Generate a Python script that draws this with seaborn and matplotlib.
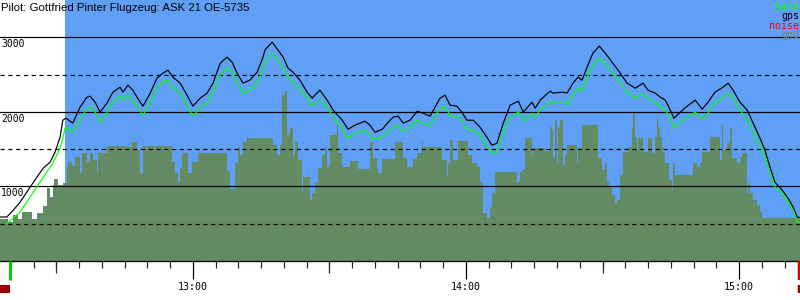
import numpy as np
import matplotlib
matplotlib.use("Agg")
import matplotlib.pyplot as plt
import seaborn as sns
from matplotlib.transforms import blended_transform_factory, ScaledTranslation
from matplotlib.patches import Rectangle

# ---------------- data (time = minutes after 12:00, altitude in m) ----------------
title = "Pilot: Gottfried Pinter Flugzeug: ASK 21 OE-5735"
legend_labels = ["baro", "gps", "noise", "gnd"]
legend_colors = ["#00ff00", "#000000", "#ff0000", "#6e8c6e"]

gps_t = [17.6, 19.1, 20.5, 22.0, 24.2, 25.7, 27.1, 28.6, 29.7, 30.8, 31.4, 32.1, 33.6, 35.2, 36.7, 37.4,
         38.5, 39.6, 41.1, 42.4, 44.0, 44.6, 45.7, 46.8, 47.7, 49.0, 50.6, 52.1, 53.4, 54.5, 55.6, 57.2,
         58.7, 60.0, 61.6, 63.1, 64.4, 66.0, 67.5, 68.6, 69.7, 71.0, 72.5, 74.1, 75.4, 75.8, 77.4, 78.7,
         79.8, 80.9, 82.0, 83.5, 85.1, 86.2, 86.8, 87.9, 89.5, 90.8, 92.8, 94.1, 95.6, 97.8, 98.9, 100.0,
         101.6, 102.9, 104.0, 105.1, 106.2, 107.7, 109.3, 110.6, 112.1, 113.2, 114.3, 115.4, 116.5, 118.0,
         119.1, 120.2, 121.6, 123.1, 124.6, 125.7, 126.8, 128.2, 129.7, 131.5, 132.6, 134.5, 135.2, 136.3,
         138.5, 139.1, 141.3, 142.2, 143.5, 144.6, 145.5, 146.6, 147.9, 149.3, 150.6, 152.1, 153.9, 155.4,
         157.2, 158.9, 160.0, 161.6, 162.7, 163.8, 164.9, 165.7, 167.1, 168.6, 170.4, 171.9, 173.2, 174.7,
         176.5, 177.6, 178.7, 180.2, 181.8, 183.1, 184.6, 185.7, 186.8, 187.9, 189.5, 190.8, 191.9, 192.8,
         193.4]
gps_alt = [590, 590, 680, 788, 989, 1123, 1244, 1325, 1459, 1660, 1888, 1915, 1849, 2063, 2197, 2210,
           2130, 1996, 2116, 2264, 2331, 2264, 2358, 2291, 2197, 2076, 2251, 2452, 2519, 2559, 2465, 2385,
           2224, 2076, 2184, 2251, 2385, 2653, 2734, 2667, 2519, 2385, 2425, 2532, 2734, 2828, 2935, 2828,
           2734, 2586, 2532, 2425, 2264, 2184, 2224, 2291, 2157, 2023, 1888, 1767, 1821, 1875, 1821, 1727,
           1767, 1861, 1929, 1942, 1849, 1888, 2009, 1982, 1942, 2063, 2184, 2224, 2090, 2076,
           1996, 1888, 1888, 1794, 1660, 1553, 1580, 1849, 2090, 2143, 1996, 2130, 2049, 2157,
           2278, 2251, 2264, 2251, 2385, 2465, 2425, 2599, 2787, 2881, 2787, 2667, 2519, 2385,
           2318, 2385, 2291, 2251, 2197, 2157, 2023, 1915, 1996, 2076, 2157, 2036, 2130, 2264,
           2331, 2385, 2291, 2130, 2023, 1849, 1647, 1486, 1258, 1056, 949, 841, 720, 586,
           586]

baro_t = [19.1, 20.5, 22.0, 24.9, 27.1, 29.2, 30.3, 31.2, 31.9, 32.3, 33.6, 35.2, 36.7, 37.8, 38.9, 39.6,
          41.1, 42.4, 44.0, 44.6, 45.7, 46.8, 47.7, 49.0, 50.6, 52.1, 53.4, 54.5, 55.6, 57.2, 58.7, 60.0,
          61.6, 63.1, 64.4, 66.0, 67.5, 68.6, 69.7, 71.0, 72.5, 74.1, 74.7, 75.8, 77.4, 78.7, 79.8, 80.9,
          82.0, 83.5, 85.1, 86.2, 87.3, 87.9, 89.5, 90.8, 92.8, 94.1, 95.6, 97.4, 98.5, 99.6, 101.1, 102.9,
          104.0, 105.1, 106.2, 107.7, 109.3, 110.6, 112.1, 113.2, 114.3, 115.4, 116.5, 118.0, 119.1, 120.2,
          121.6, 123.1, 124.6, 126.0, 126.8, 128.2, 129.7, 131.5, 132.1, 133.0, 134.5, 135.2, 136.3, 138.5,
          140.0, 141.8, 142.2, 143.5, 144.6, 145.5, 146.6, 147.9, 149.3, 150.6, 152.1, 153.9, 155.4, 157.2,
          158.9, 160.0, 161.6, 162.7, 163.8, 164.9, 165.7, 167.1, 168.6, 170.4, 171.9, 173.2, 174.7, 176.3,
          177.6, 178.7, 180.2, 181.8, 183.1, 184.6, 185.7, 186.8, 187.9, 189.5, 190.8, 191.9, 192.8, 193.4]
baro_alt = [506, 573, 654, 922, 1123, 1311, 1446, 1593, 1781, 1781, 1727, 1888, 2049, 2063, 1955, 1861,
            1982, 2130, 2210, 2157, 2224, 2157, 2076, 1955, 2130, 2331, 2398, 2425, 2331, 2251, 2076, 1942,
            2049, 2116, 2251, 2492, 2586, 2532, 2385, 2251, 2291, 2398, 2452, 2667, 2787, 2693, 2599, 2465,
            2398, 2291, 2184, 2076, 2130, 2157, 2063, 1929, 1781, 1647, 1700, 1754, 1727, 1633, 1647, 1727,
            1794, 1821, 1727, 1794, 1888, 1849, 1808, 1955, 2036, 2076, 1955, 1942, 1888, 1767,
            1754, 1687, 1539, 1432, 1459, 1727, 1929, 1996, 1955, 1875, 1982, 1929, 2023, 2143,
            2116, 2130, 2090, 2224, 2318, 2278, 2465, 2626, 2720, 2653, 2532, 2385, 2264, 2184,
            2251, 2184, 2120, 2076, 2023, 1915, 1781, 1861, 1929, 1996, 1902, 1982, 2130, 2184,
            2251, 2184, 2023, 1902, 1727, 1553, 1392, 1190, 989, 908, 788, 680, 519, 519]

gnd_t = [17.6, 19.4, 20.5, 21.6, 22.4, 24.6, 25.7, 27.1, 27.9, 28.6, 29.2, 29.5, 30.3, 31.4, 32.3, 32.5,
         33.4, 34.1, 35.2, 35.6, 36.7, 37.4, 38.0, 38.9, 39.1, 41.1, 45.5, 46.6, 47.7, 48.4, 49.0, 55.4,
         56.1, 56.7, 57.2, 57.6, 58.9, 59.8, 61.1, 67.5, 68.2, 69.3, 69.9, 70.4, 71.0, 71.9, 77.6, 78.5,
         79.1, 79.6, 80.2, 80.7, 81.3, 82.0, 82.4, 83.1, 84.0, 84.2, 85.7, 86.2, 86.8, 87.5, 88.4, 89.0,
         89.5, 90.1, 91.7, 91.9, 92.8, 94.5, 96.3, 98.9, 99.6, 100.5, 100.7, 101.6, 104.4, 106.2, 107.1,
         108.4, 109.3, 110.4, 110.6, 114.7, 115.8, 116.1, 116.5, 117.2, 118.3, 120.5, 121.3, 122.4, 123.1,
         123.8, 124.6, 125.3, 125.7, 126.4, 131.2, 131.9, 132.3, 133.0, 134.5, 134.8, 137.4, 138.5, 138.9,
         139.1, 139.6, 140.0, 140.2, 140.7, 141.3, 141.8, 142.2, 144.4, 144.6, 145.5, 149.0, 149.9, 150.6,
         151.0, 151.5, 152.1, 152.8, 153.2, 153.9, 154.5, 155.6, 156.5, 156.7, 157.2, 157.6, 157.8, 158.9,
         160.0, 160.9, 161.6, 162.0, 162.2, 162.7, 163.1, 163.3, 163.8, 164.6, 165.3, 165.5, 166.0, 169.9,
         170.8, 171.5, 171.9, 173.7, 175.9, 176.3, 176.5, 177.4, 178.1, 178.5, 179.6, 180.3, 180.7, 181.8,
         182.0, 182.5, 183.1, 184.0, 184.6, 185.1, 193.4]
gnd_alt = [560, 519, 613, 560, 654, 560, 640, 734, 976, 855, 1016, 1096, 1016, 1043, 1258, 1325,
           1271, 1392, 1177, 1445, 1325, 1445, 1351, 1177, 1445, 1539, 1526, 1593, 1486, 1177, 1539, 1325,
           1177, 1056, 1244, 1445, 1177, 1325, 1445, 1204, 962, 1311, 1526, 1418, 1593, 1647, 1553, 1418,
           1553, 2224, 2278, 1687, 1781, 1418, 1593, 1351, 908, 1123, 814, 908, 1043, 1244, 1418, 1526,
           1258, 1687, 1821, 1445, 1258, 1338, 1231, 1593, 1378, 1258, 1177, 1365, 1593, 1378, 1258,
           1365, 1445, 1593, 1526, 1351, 1123, 1311, 1620, 1351, 1606, 1418, 1311, 1258, 1056,
           640, 573, 721, 908, 1190, 1056, 1190, 1217, 1647, 1418, 1512, 1472, 1794, 1754,
           1392, 1888, 1311, 1794, 1888, 1284, 1418, 1553, 1325, 1512, 1821, 1378, 1217, 1311,
           1056, 989, 882, 774, 814, 1150, 1459, 1526, 1794, 1996, 1660, 1486, 1647, 1459,
           1647, 1445, 1660, 1915, 1794, 1660, 1526, 1445, 1311, 1083, 949, 1311, 1150, 1311,
           1258, 1311, 1459, 1660, 1351, 1821, 1486, 1580, 1781, 1378, 1311, 1392, 1445, 908,
           1043, 908, 814, 747, 654, 573, 573]

hour_ticks = [60, 120, 180]
hour_labels = ["13:00", "14:00", "15:00"]
half_hour_ticks = [30, 90, 150]
solid_levels = [1000, 2000, 3000]
dashed_levels = [500, 1500, 2500]
level_labels = ["1000", "2000", "3000"]
takeoff_t = 19.7
landing_t = 193.1
sky_start_t = 31.9
t_start, t_end = 17.6, 193.4

# ---------------- style ----------------
sns.set_style("white")
plt.rcParams["font.family"] = ["DejaVu Sans Mono"]

SKY = "#5f9ff5"
GND = "#648c64"
PX = 0.72  # one pixel in points at dpi 100

fig = plt.figure(figsize=(8, 3), dpi=100)
ax = fig.add_axes([0, 39 / 300, 1, 261 / 300])
ax.set_xlim(t_start, t_end)
ax.set_ylim(0, 3500)

ax.axvspan(sky_start_t, t_end, color=SKY, lw=0, zorder=0)
ax.fill_between(gnd_t, gnd_alt, step="post", color=GND, lw=0, zorder=1)

for lv in solid_levels:
    ax.axhline(lv, color="black", lw=PX * 1.2, zorder=2)
for lv in dashed_levels:
    ax.axhline(lv, color="black", lw=PX * 1.2, ls=(0, (3.5, 3)), zorder=2)

sns.lineplot(x=gps_t, y=gps_alt, color="black", lw=0.85, ax=ax, sort=False,
             estimator=None, zorder=4)
sns.lineplot(x=baro_t, y=baro_alt, color="#00ff00", lw=0.85, ax=ax, sort=False,
             estimator=None, zorder=4)

# level labels
for lv, lab in zip(solid_levels, level_labels):
    ax.text(t_start, lv, lab, fontsize=7.0, color="black", va="baseline", ha="left",
            transform=ax.transData + ScaledTranslation(1 / 100, -10 / 100, fig.dpi_scale_trans),
            zorder=5)

# spines/ticks
for s in ["top", "right", "left"]:
    ax.spines[s].set_visible(False)
ax.spines["bottom"].set_color("black")
ax.spines["bottom"].set_linewidth(PX * 1.3)
ax.set_yticks([])
ax.set_xticks(hour_ticks, hour_labels)
ax.set_xticks(np.arange(20, 195, 5), minor=True)
ax.tick_params(axis="x", which="major", length=18 * PX, width=PX * 1.2, pad=2.0,
               labelsize=7.2, colors="black", direction="out", bottom=True)
ax.tick_params(axis="x", which="minor", length=7 * PX, width=PX * 1.2, direction="out", bottom=True)

sec = ax.secondary_xaxis("bottom")
sec.set_xticks(half_hour_ticks)
sec.tick_params(axis="x", length=12 * PX, width=PX * 1.2, labelbottom=False, direction="out")
sec.spines["bottom"].set_visible(False)

# takeoff / landing markers
tr = blended_transform_factory(ax.transData, fig.transFigure)
ax.vlines(takeoff_t, 20 / 300, 39 / 300, color="#00d000", lw=3 * PX, transform=tr, clip_on=False, zorder=6)
ax.vlines(landing_t, 20 / 300, 39 / 300, color="#d00000", lw=2.5 * PX, transform=tr, clip_on=False, zorder=6)
ax.vlines(landing_t, 7 / 300, 15 / 300, color="#a00000", lw=2.5 * PX, transform=tr, clip_on=False, zorder=6)
fig.patches.append(Rectangle((0, 7 / 300), 10 / 800, 8 / 300, transform=fig.transFigure,
                             color="#a00000", lw=0))

# title & legend
fig.text(1 / 800, 1 - 11 / 300, title, fontsize=8.2, family=["Liberation Sans", "DejaVu Sans"],
         va="baseline", ha="left", color="black")
for i, (lab, col) in enumerate(zip(legend_labels, legend_colors)):
    fig.text(799 / 800, 1 - (10 + 9.3 * i) / 300, lab, fontsize=7.2, color=col,
             va="baseline", ha="right")

fig.savefig("out.png", dpi=100)
